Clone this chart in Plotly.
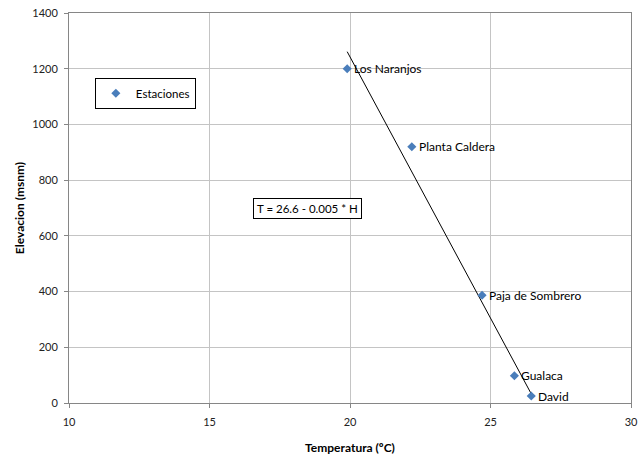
import numpy as np
import plotly.graph_objects as go

stations = ["Los Naranjos", "Planta Caldera", "Paja de Sombrero", "Gualaca", "David"]
temperature = [19.9, 22.2, 24.7, 25.85, 26.45]
elevation = [1200, 920, 387, 98, 25]
equation_text = "T = 26.6 - 0.005 * H"
x_ticks = [10, 15, 20, 25, 30]
y_ticks = [0, 200, 400, 600, 800, 1000, 1200, 1400]

# Linear trendline (elevation vs temperature) over the range of the data
slope, intercept = np.polyfit(temperature, elevation, 1)
trend_x = [min(temperature), max(temperature)]
trend_y = [slope * t + intercept for t in trend_x]

FONT = "Lato, 'Open Sans', sans-serif"
BLUE = "#4a7ebb"

fig = go.Figure()
fig.add_trace(go.Scatter(
    x=trend_x, y=trend_y, mode="lines",
    line=dict(color="black", width=1), showlegend=False, hoverinfo="skip"))
fig.add_trace(go.Scatter(
    x=temperature, y=elevation, mode="markers", name="Estaciones",
    marker=dict(symbol="diamond", size=7, color=BLUE)))

for name, t, h in zip(stations, temperature, elevation):
    fig.add_annotation(x=t, y=h, xref="x", yref="y", text=name, showarrow=False,
                       xanchor="left", yanchor="middle", xshift=5,
                       font=dict(family=FONT, size=12, color="#000000"))

fig.add_annotation(
    x=18.5, y=700, xref="x", yref="y", text=equation_text, showarrow=False,
    font=dict(family=FONT, size=11.5, color="#000000"),
    bordercolor="black", borderwidth=1, borderpad=3, bgcolor="white")

axis_common = dict(
    showgrid=True, gridcolor="#c4c4c4", gridwidth=1,
    showline=True, linecolor="#868686", linewidth=1, mirror=True,
    ticks="outside", ticklen=4, tickcolor="#868686", automargin=False,
    zeroline=False, tickfont=dict(family=FONT, size=11, color="#222"),
)

fig.update_xaxes(range=[10, 30], tickvals=x_ticks, ticklabelstandoff=5,
                 title=dict(text="<b>Temperatura (ºC)</b>", font=dict(family=FONT, size=12, color="#000"), standoff=17),
                 **axis_common)
fig.update_yaxes(range=[0, 1400], tickvals=y_ticks, ticklabelstandoff=4,
                 title=dict(text="<b>Elevacion (msnm)</b>", font=dict(family=FONT, size=12, color="#000"), standoff=5),
                 **axis_common)

fig.update_layout(
    width=638, height=455,
    margin=dict(l=69, r=7, t=13, b=52, autoexpand=False),
    paper_bgcolor="white", plot_bgcolor="white",
    showlegend=True,
    legend=dict(x=0.046, y=0.834, xanchor="left", yanchor="top",
                bordercolor="black", borderwidth=1, bgcolor="white",
                font=dict(family=FONT, size=11.5, color="#000"),
                itemwidth=30, tracegroupgap=0),
)

fig.write_html("out.html", config={"displayModeBar": False},
               post_script="document.body.style.margin='0';")
